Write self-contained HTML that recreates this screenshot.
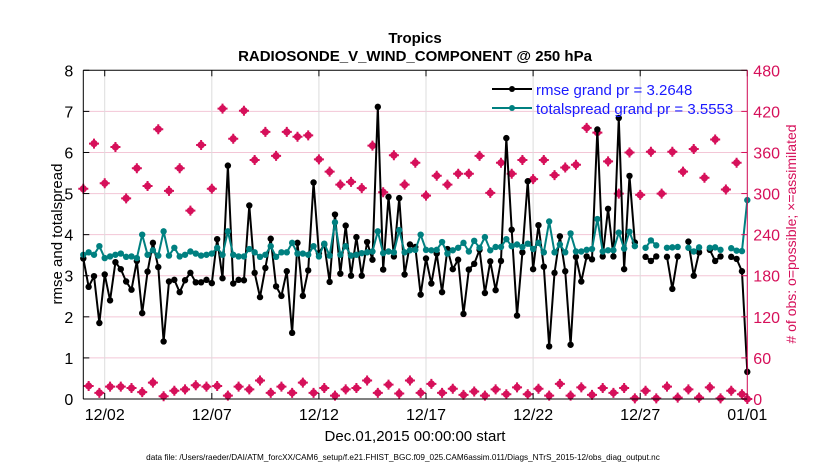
<!DOCTYPE html>
<html><head><meta charset="utf-8"><style>
body{margin:0;background:#fff;}
svg{display:block;font-family:"Liberation Sans",sans-serif;}
</style></head><body>
<svg id="chart" width="830" height="470" viewBox="0 0 830 470" xmlns="http://www.w3.org/2000/svg">
<rect width="830" height="470" fill="#fff"/>
<text x="415" y="43" text-anchor="middle" font-size="15" font-weight="bold">Tropics</text>
<text x="415" y="61" text-anchor="middle" font-size="15" font-weight="bold">RADIOSONDE_V_WIND_COMPONENT @ 250 hPa</text>
<g id="grid"></g>
<g id="obs"></g>
<g id="series"></g>
<g id="axes"></g>
<text x="62" y="234" transform="rotate(-90 62 234)" text-anchor="middle" font-size="15">rmse and totalspread</text>
<text x="796" y="234" transform="rotate(-90 796 234)" text-anchor="middle" font-size="14" fill="#d6105a"># of obs: o=possible; ×=assimilated</text>
<text x="415" y="441" text-anchor="middle" font-size="15">Dec.01,2015 00:00:00 start</text>
<text x="403" y="460" text-anchor="middle" font-size="8.2">data file: /Users/raeder/DAI/ATM_forcXX/CAM6_setup/f.e21.FHIST_BGC.f09_025.CAM6assim.011/Diags_NTrS_2015-12/obs_diag_output.nc</text>
<g>
<line x1="492" y1="89" x2="532" y2="89" stroke="#000" stroke-width="2"/>
<circle cx="512" cy="89" r="3" fill="#000"/>
<text x="536" y="95" font-size="15" fill="#1a1aff">rmse grand pr = 3.2648</text>
<line x1="492" y1="108" x2="532" y2="108" stroke="#008080" stroke-width="2"/>
<circle cx="512" cy="108" r="3" fill="#008080"/>
<text x="536" y="114" font-size="15" fill="#1a1aff">totalspread grand pr = 3.5553</text>
</g>
</svg>
<script>
const xTickLabels = ["12/02","12/07","12/12","12/17","12/22","12/27","01/01"];
const xTickDays = [1,6,11,16,21,26,31];
const yTicks = [0,1,2,3,4,5,6,7,8];
const y2Ticks = [0,60,120,180,240,300,360,420,480];
const N = NaN;
const rmse = [3.42,2.73,2.99,1.85,3.03,2.40,3.33,3.16,2.86,2.66,3.36,2.09,3.10,3.80,3.21,1.40,2.86,2.90,2.60,2.89,3.07,2.84,2.84,2.90,2.82,3.89,2.94,5.68,2.81,2.90,2.89,4.71,
3.07,2.48,3.19,3.90,2.74,2.51,3.11,1.61,3.80,2.51,3.13,5.27,3.55,3.76,2.85,4.49,3.05,4.22,3.00,3.94,3.00,3.82,3.39,7.11,3.15,4.92,3.47,4.89,3.03,3.76,3.70,
2.54,3.42,2.81,3.54,2.60,3.65,3.16,3.39,2.07,3.15,3.29,3.63,2.58,3.35,2.65,3.36,6.35,4.12,2.03,3.57,5.30,3.16,4.23,3.22,1.28,3.07,3.96,3.11,1.32,3.46,2.86,3.47,3.40,
6.56,3.47,4.63,3.47,6.84,3.16,5.43,3.81,N,3.46,3.36,3.47,N,3.46,2.68,3.47,N,3.83,3.00,3.57,N,3.63,3.36,3.47,N,3.46,3.41,3.11,0.66,N];
const spread = [3.51,3.57,3.51,3.72,3.43,3.47,3.51,3.54,3.46,3.47,3.43,4.00,3.51,3.62,3.49,4.08,3.49,3.68,3.47,3.51,3.59,3.54,3.49,3.51,3.54,3.68,3.51,4.08,3.51,3.47,3.47,3.65,
3.57,3.46,3.51,3.72,3.46,3.57,3.57,3.80,3.54,3.54,3.51,3.72,3.47,3.78,3.49,4.30,3.51,3.72,3.49,3.51,3.55,3.57,3.59,4.08,3.55,3.59,3.57,4.11,3.57,3.62,3.63,
4.00,3.63,3.62,3.63,3.82,3.54,3.62,3.68,3.80,3.59,3.85,3.68,3.94,3.62,3.70,3.70,3.89,3.72,3.76,3.70,3.78,3.65,3.80,3.57,4.32,3.57,3.76,3.57,4.03,3.59,3.59,3.63,3.65,
4.38,3.59,3.62,3.62,4.05,3.66,4.07,3.72,N,3.68,3.86,3.74,N,3.68,3.69,3.70,N,3.68,3.59,3.69,N,3.68,3.69,3.63,N,3.67,3.61,3.60,4.84,N];
const obsEven = [307,373,315,368,293,337,311,394,304,337,275,371,307,424,380,421,349,390,355,390,383,385,350,332,313,317,308,370,302,356,313,345,
297,326,313,329,329,355,301,345,329,349,321,349,327,338,342,396,389,347,300,360,298,361,300,361,332,365,323,379,306,345,0];
const obsOdd = [19,9,18,18,16,10,24,4,12,14,20,18,19,5,18,14,27,9,18,9,24,9,16,5,14,16,27,9,21,8,27,
9,22,9,15,6,11,5,14,7,17,7,15,5,22,5,17,6,16,9,16,1,12,1,18,2,14,2,17,1,12,7];

const L=83.3,R=747.3,T=70.3,B=399;
const xs = d => L + d*(R-L)/31;
const ys = v => B - v*(B-T)/8;
const y2s = v => B - v*(B-T)/480;
const NS="http://www.w3.org/2000/svg";
function mk(tag, attrs, parent){const e=document.createElementNS(NS,tag);for(const k in attrs)e.setAttribute(k,attrs[k]);parent.appendChild(e);return e;}
const grid=document.getElementById('grid'), axes=document.getElementById('axes'), ser=document.getElementById('series'), obsG=document.getElementById('obs');

yTicks.forEach(v=>{
  if(v>0&&v<8){const g=mk('line',{x1:L,x2:R,y1:ys(v),y2:ys(v),stroke:'#f3c6d6','stroke-width':1},grid);
  
  }
  mk('line',{x1:L,x2:L+6,y1:ys(v),y2:ys(v),stroke:'#000'},axes);
  const t=mk('text',{x:L-10,y:ys(v)+6,'text-anchor':'end','font-size':16},axes);t.textContent=v;
  
  
});
y2Ticks.forEach(v=>{
  mk('line',{x1:R-6,x2:R,y1:y2s(v),y2:y2s(v),stroke:'#d6105a'},axes);
  const t=mk('text',{x:R+6,y:y2s(v)+6,'font-size':16,fill:'#d6105a'},axes);t.textContent=v;
  
  
});
xTickDays.forEach((d,k)=>{
  const g=mk('line',{x1:xs(d),x2:xs(d),y1:T,y2:B,stroke:'#dcdcdc'},grid);
  
  
  mk('line',{x1:xs(d),x2:xs(d),y1:B,y2:B-6,stroke:'#000'},axes);
  mk('line',{x1:xs(d),x2:xs(d),y1:T,y2:T+6,stroke:'#000'},axes);
  const t=mk('text',{x:xs(d),y:B+21,'text-anchor':'middle','font-size':16},axes);t.textContent=xTickLabels[k];
  
  
});
mk('line',{x1:L,x2:R,y1:T,y2:T,stroke:'#000'},axes);
mk('line',{x1:L,x2:R,y1:B,y2:B,stroke:'#000'},axes);
mk('line',{x1:L,x2:L,y1:T,y2:B,stroke:'#000'},axes);
mk('line',{x1:R,x2:R,y1:T,y2:B,stroke:'#d6105a'},axes);

for(let i=0;i<125;i++){
  const v = i%2===0 ? obsEven[i/2] : obsOdd[(i-1)/2];
  if(v===undefined) continue;
  const cx=xs(i*0.25), cy=y2s(v);
  const g=mk('g',{},obsG);
  
  
  mk('circle',{cx:cx,cy:cy,r:3.6,fill:'#d6105a'},g);
  mk('path',{d:`M${cx-5} ${cy}H${cx+5}M${cx} ${cy-5}V${cy+5}`,stroke:'#d6105a','stroke-width':2},g);
}

function drawSeries(arr,color,name){
  let d='',pen=false;
  arr.forEach((v,i)=>{
    if(isNaN(v)){pen=false;return;}
    d+=(pen?'L':'M')+xs(i*0.25).toFixed(2)+' '+ys(v).toFixed(2);pen=true;
  });
  const p=mk('path',{d:d,fill:'none',stroke:color,'stroke-width':2,'stroke-linejoin':'round'},ser);
  
  
  arr.forEach((v,i)=>{
    if(isNaN(v))return;
    const c=mk('circle',{cx:xs(i*0.25),cy:ys(v),r:3.2,fill:color},ser);
    
    
  });
}
drawSeries(rmse,'#000','rmse');
drawSeries(spread,'#008080','totalspread');
</script>
</body></html>
